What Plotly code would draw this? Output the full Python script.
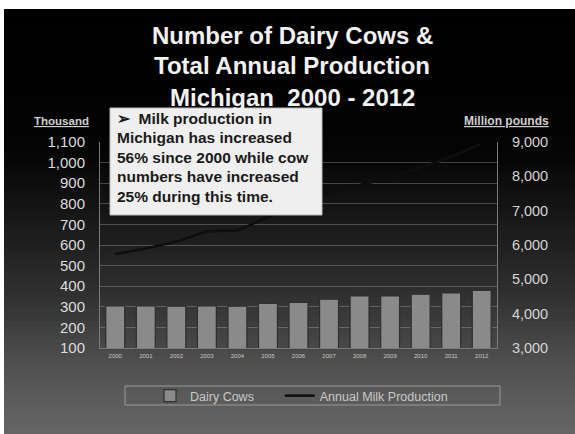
import plotly.graph_objects as go

years = [str(y) for y in range(2000, 2013)]
dairy_cows = [304, 304, 303, 304, 303, 316, 321, 337, 353, 353, 361, 367, 380]
milk_production = [5740, 5900, 6100, 6400, 6420, 6810, 7150, 7500, 7750, 7960, 8250, 8570, 8950]
left_ticks = list(range(100, 1200, 100))
right_ticks = list(range(3000, 10000, 1000))
series_names = ["Dairy Cows", "Annual Milk Production"]
title_lines = ["Number of Dairy Cows &", "Total Annual Production", "Michigan  2000 - 2012"]
note_lines = ["\u27a2  Milk production in", "Michigan has increased", "56% since 2000 while cow",
              "numbers have increased", "25% during this time."]

W, H = 575, 434
L, R, T, B = 100, 497, 142, 348
pw, ph = R - L, B - T

def px(x):
    return (x - L) / pw

def py(y):
    return (B - y) / ph

FONT = "Liberation Sans, Arial, sans-serif"
NBSP = "\u00a0"

fig = go.Figure()
fig.add_trace(go.Bar(x=years, y=dairy_cows, name=series_names[0] + NBSP * 6, width=0.62,
                     marker=dict(color="#8a8a8a", line=dict(color="#2e2e2e", width=1.2)),
                     yaxis="y"))
fig.add_trace(go.Scatter(x=years, y=milk_production, name=series_names[1],
                         mode="lines", line=dict(color="#0e0e0e", width=2.5), yaxis="y2"))

shapes = []
# gradient background
stops = [(9, 0), (150, 4), (220, 24), (300, 50), (360, 78), (434, 102)]
def shade(y):
    for (y0, c0), (y1, c1) in zip(stops, stops[1:]):
        if y0 <= y <= y1:
            return c0 + (c1 - c0) * (y - y0) / (y1 - y0)
    return stops[-1][1]
step = 6
y = 9
while y < H:
    c = int(round(shade(y + step / 2)))
    shapes.append(dict(type="rect", xref="paper", yref="paper", layer="below",
                       x0=px(4), x1=px(W + 2), y0=py(y), y1=py(min(y + step + 0.5, H + 2)),
                       fillcolor=f"rgb({c},{c},{c})", line=dict(width=0)))
    y += step
# note box
shapes.append(dict(type="rect", xref="paper", yref="paper", layer="above",
                   x0=px(110), x1=px(322), y0=py(215), y1=py(108),
                   fillcolor="#efefef", line=dict(color="#bbbbbb", width=1)))
# legend frame
shapes.append(dict(type="rect", xref="paper", yref="paper", layer="above",
                   x0=px(125), x1=px(500), y0=py(405), y1=py(386),
                   fillcolor="rgba(0,0,0,0)", line=dict(color="#9a9a9a", width=1)))

annotations = []
for i, t in enumerate(title_lines):
    annotations.append(dict(text=f"<b>{t}</b>", xref="paper", yref="paper",
                            x=px(292), y=py(35 + 31 * i), xanchor="center", yanchor="middle",
                            showarrow=False, font=dict(family=FONT, size=24, color="#f2f2f2")))
for i, t in enumerate(note_lines):
    annotations.append(dict(text=f"<b>{t}</b>", xref="paper", yref="paper",
                            x=px(115), y=py(118 + 19.6 * i), xanchor="left", yanchor="middle",
                            showarrow=False, font=dict(family=FONT, size=15.5, color="#1a1a1a")))
annotations.append(dict(text="<b><u>Thousand</u></b>", xref="paper", yref="paper",
                        x=px(91), y=py(121), xanchor="right", yanchor="middle", showarrow=False,
                        font=dict(family=FONT, size=11.5, color="#cfcfcf")))
annotations.append(dict(text="<b><u>Million pounds</u></b>", xref="paper", yref="paper",
                        x=px(551), y=py(121), xanchor="right", yanchor="middle", showarrow=False,
                        font=dict(family=FONT, size=12, color="#cfcfcf")))

fig.update_layout(
    width=W, height=H,
    margin=dict(l=L, r=W - R, t=T, b=H - B, pad=0),
    paper_bgcolor="white", plot_bgcolor="rgba(0,0,0,0)",
    showlegend=True,
    legend=dict(orientation="h", x=px(150), xanchor="left", y=py(396), yanchor="middle",
                bgcolor="rgba(0,0,0,0)", borderwidth=0,
                font=dict(family=FONT, size=12.5, color="#c8c8c8")),
    bargap=0.38,
    xaxis=dict(type="category", showgrid=False, showline=True, linecolor="#7a7a7a",
               ticks="", tickfont=dict(family=FONT, size=6, color="#c8c8c8"), ticklabelstandoff=2),
    yaxis=dict(range=[100, 1100], tickvals=left_ticks, tickformat=",d",
               showgrid=True, gridcolor="rgba(200,200,200,0.3)", gridwidth=1,
               showline=True, linecolor="#7a7a7a", ticks="", zeroline=False,
               ticklabelstandoff=11,
               tickfont=dict(family=FONT, size=15, color="#dcdcdc")),
    yaxis2=dict(range=[3000, 9000], tickvals=right_ticks, tickformat=",d", overlaying="y",
                side="right", showgrid=False, showline=True, linecolor="#7a7a7a", ticks="",
                zeroline=False, ticklabelstandoff=11,
                tickfont=dict(family=FONT, size=14.5, color="#d4d4d4")),
    shapes=shapes, annotations=annotations,
)
fig.write_html("out.html")
